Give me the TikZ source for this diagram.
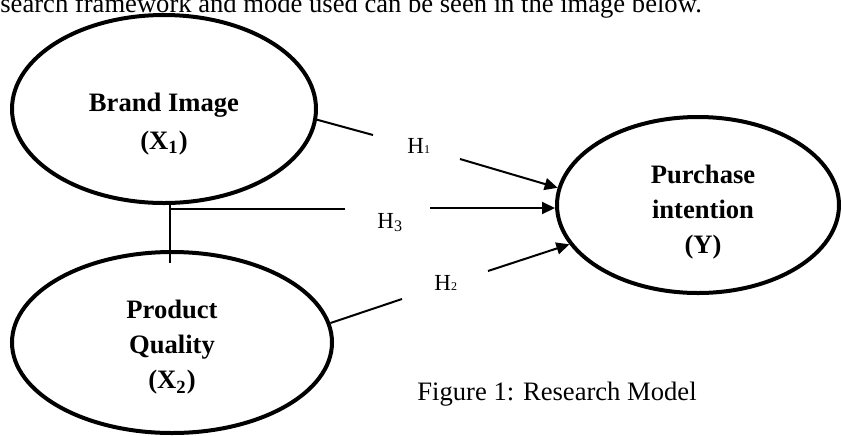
\documentclass[tikz,border=0pt]{standalone}
\usepackage{fontspec}
\setmainfont{Liberation Serif}
\usetikzlibrary{shapes,arrows.meta}

\begin{document}
\begin{tikzpicture}[x=0.5pt, y=-0.5pt,
    var/.style={draw, ellipse, line width=2pt, inner sep=0pt},
    vartext/.style={align=center, font=\bfseries\fontsize{13.3}{17.7}\selectfont},
    link/.style={line width=1pt},
    effect/.style={line width=1pt, -{Triangle[length=6.5pt,width=6pt]}},
    hyp/.style={anchor=base west, inner sep=0pt, font=\fontsize{11.5}{12}\selectfont},
    plain/.style={anchor=base west, inner sep=0pt, font=\fontsize{13.3}{16}\selectfont}]
    \useasboundingbox (0,0) rectangle (842,435);

    %  sentence cut off above the figure
    \node [plain] (intro) at (0, 12) {search framework and mode used can be seen in the image below.};

    %  the three variables
    \node [var, minimum width=152pt, minimum height=94pt] (bi) at (164, 109) {};
    \node [vartext] (bi-t) at ([yshift=-7.5pt]bi.center) {Brand Image\\[1pt](X\textsubscript{1})};
    \node [var, minimum width=160pt, minimum height=90.5pt] (pq) at (172, 342.5) {};
    \node [vartext] (pq-t) at ([yshift=-2.25pt]pq.center) {Product\\Quality\\ (X\textsubscript{2})};
    \node [var, minimum width=141pt, minimum height=88pt] (pi) at (698, 205) {};
    \node [vartext] (pi-t) at ([xshift=2.5pt, yshift=-3.5pt]pi.center) {Purchase\\intention\\(Y)};

    %  hypothesis labels
    \node [hyp] (h1) at (407, 153) {H{\fontsize{6}{6}\selectfont 1}};
    \node [hyp] (h3) at (377, 228) {H\textsubscript{3}};
    \node [hyp] (h2) at (434, 290) {H{\fontsize{6}{6}\selectfont 2}};

    %  loose ends of the connectors
    \coordinate (h1a) at (373, 135);
    \coordinate (h1b) at (460, 159);
    \coordinate (jn) at (170, 209);
    \coordinate (pq-in) at (170, 263);
    \coordinate (h3a) at (345, 209);
    \coordinate (h3b) at (430, 208);
    \coordinate (h2a) at (402, 299);
    \coordinate (h2b) at (488, 271);

    %  H1
    \draw [link] (bi.-4) -- (h1a);
    \draw [effect] (h1b) -- (pi.173);

    %  H3
    \draw [link, line width=.9pt] (bi.south -| jn) -- (pq-in);
    \draw [link, line width=.9pt] (jn) -- (h3a);
    \draw [effect] (h3b) -- (h3b -| pi.west);

    %  H2
    \draw [link] (pq.7) -- (h2a);
    \draw [effect] (h2b) -- (pi.197);

    \node [plain] (caption) at (417, 400) {Figure 1: Research Model};
\end{tikzpicture}
\end{document}
